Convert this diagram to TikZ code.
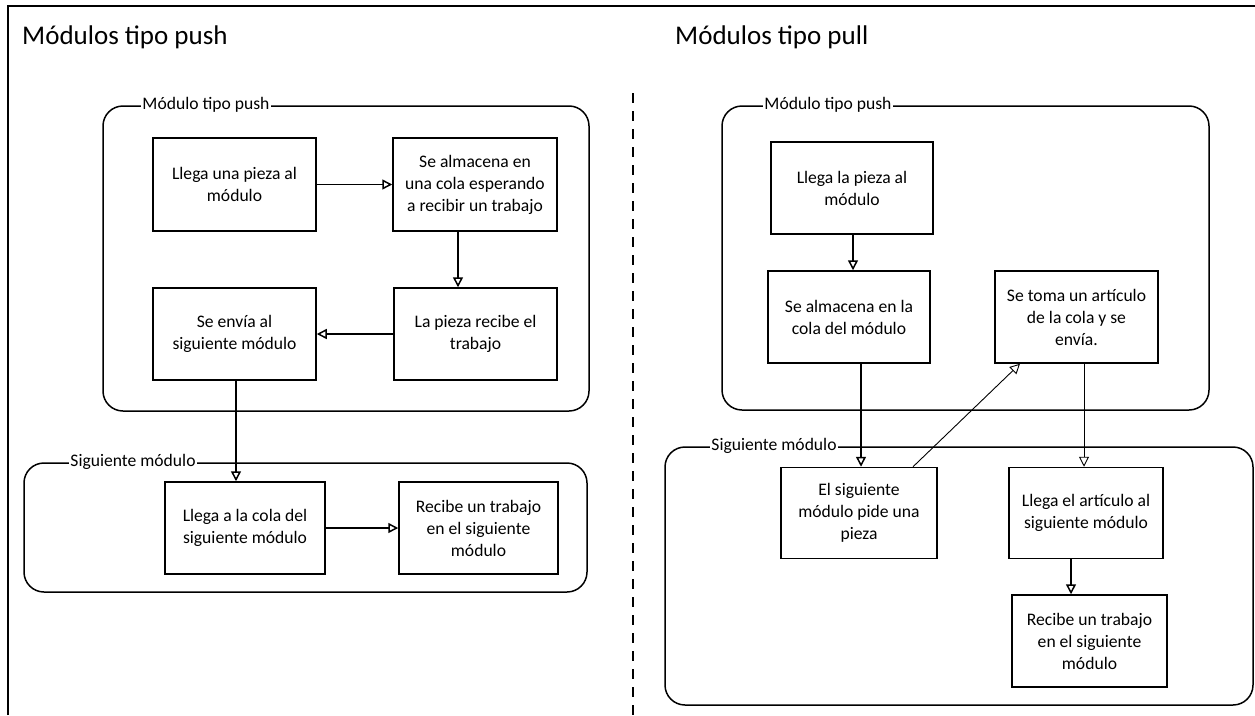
\documentclass[tikz,border=0pt]{standalone}
\usepackage{fontspec}
\setmainfont{Carlito}
\usetikzlibrary{arrows.meta}
\begin{document}
\begin{tikzpicture}[x=1pt,y=-1pt,
  stepbox/.style={draw, line width=1.5pt, align=center, inner sep=0pt,
    font=\fontsize{17.6}{22}\selectfont},
  group/.style={draw, line width=1.5pt, rounded corners=20pt, inner sep=0pt},
  grouplabel/.style={fill=white, inner sep=1pt, anchor=west,
    font=\fontsize{17.6}{22}\selectfont},
  paneltitle/.style={anchor=base west, inner sep=0pt,
    font=\fontsize{27}{32}\selectfont},
  arr/.style={line width=1.5pt, -{Triangle[open,length=10pt,width=10pt]}},
  thinarr/.style={line width=0.9pt, -{Triangle[open,length=10pt,width=10pt]}},
]
\useasboundingbox (0,0) rectangle (1255,715);

% outer frame and divider
\coordinate (frameTL) at (8,6);
\coordinate (frameTR) at (1255,6);
\coordinate (frameBL) at (8,715);
\draw[line width=2pt] (frameBL) -- (frameTL) -- (frameTR);
\coordinate (divTop) at (633,93);
\coordinate (divBot) at (633,715);
\draw[line width=1.6pt, dash pattern=on 10pt off 8pt] (divTop) -- (divBot);

% titles
\node[paneltitle] (titlePush) at (22,44) {Módulos tipo push};
\node[paneltitle] (titlePull) at (675,44) {Módulos tipo pull};

% ---------- push side ----------
\node[group, minimum width=486pt, minimum height=305pt] (pushL) at (346,258.5) {};
\node[grouplabel] (pushLlabel) at ([xshift=39pt]pushL.north west) {Módulo tipo push};
\node[group, minimum width=563pt, minimum height=129pt] (sigL) at (305.5,527.5) {};
\node[grouplabel] (sigLlabel) at ([xshift=46pt]sigL.north west) {Siguiente módulo};

\node[stepbox, minimum width=163pt, minimum height=93pt] (a) at (234.5,184.5)
  {Llega una pieza al\\módulo};
\node[stepbox, minimum width=164pt, minimum height=93pt] (b) at (475,184.5)
  {Se almacena en\\una cola esperando\\a recibir un trabajo};
\node[stepbox, minimum width=163pt, minimum height=92pt] (c) at (475.5,334)
  {La pieza recibe el\\trabajo};
\node[stepbox, minimum width=163pt, minimum height=92pt] (d) at (234.5,334)
  {Se envía al\\siguiente módulo};
\node[stepbox, minimum width=160pt, minimum height=92pt] (e) at (245,528)
  {Llega a la cola del\\siguiente módulo};
\node[stepbox, minimum width=159pt, minimum height=92pt] (f) at (478.5,528)
  {Recibe un trabajo\\en el siguiente\\módulo};

\draw[arr] (a) -- (b);
\draw[arr] ([xshift=-17pt]b.south) -- ([xshift=-17pt]b.south |- c.north);
\draw[arr] (c) -- (d);
\draw[arr] ([xshift=1.5pt]d.south) -- ([xshift=1.5pt]d.south |- e.north);
\draw[arr] (e) -- (f);

% ---------- pull side ----------
\node[group, minimum width=487pt, minimum height=304pt] (pushR) at (965.5,258) {};
\node[grouplabel] (pushRlabel) at ([xshift=42pt]pushR.north west) {Módulo tipo push};
\node[group, minimum width=588pt, minimum height=258pt] (sigR) at (959,576) {};
\node[grouplabel] (sigRlabel) at ([xshift=46pt]sigR.north west) {Siguiente módulo};

\node[stepbox, minimum width=162pt, minimum height=92pt] (g) at (852,188)
  {Llega la pieza al\\módulo};
\node[stepbox, minimum width=162pt, minimum height=92pt] (h) at (849,317)
  {Se almacena en la\\cola del módulo};
\node[stepbox, minimum width=163pt, minimum height=92pt] (i) at (1076.5,317)
  {Se toma un artículo\\de la cola y se\\envía.};
\node[stepbox, minimum width=156pt, minimum height=91pt] (j) at (859,513)
  {El siguiente\\módulo pide una\\pieza};
\node[stepbox, minimum width=154pt, minimum height=91pt] (k) at (1086,513)
  {Llega el artículo al\\siguiente módulo};
\node[stepbox, minimum width=155pt, minimum height=92pt] (l) at (1089.5,641)
  {Recibe un trabajo\\en el siguiente\\módulo};

\draw[arr] ([xshift=1pt]g.south) -- ([xshift=1pt]g.south |- h.north);
\draw[arr] ([xshift=12pt]h.south) -- ([xshift=12pt]h.south |- j.north);
\draw[thinarr] ([xshift=54pt]j.north) -- ([xshift=-56.5pt]i.south);
\draw[thinarr] ([xshift=7.5pt]i.south) -- ([xshift=7.5pt]i.south |- k.north);
\draw[arr] ([xshift=-15pt]k.south) -- ([xshift=-15pt]k.south |- l.north);
\end{tikzpicture}
\end{document}
